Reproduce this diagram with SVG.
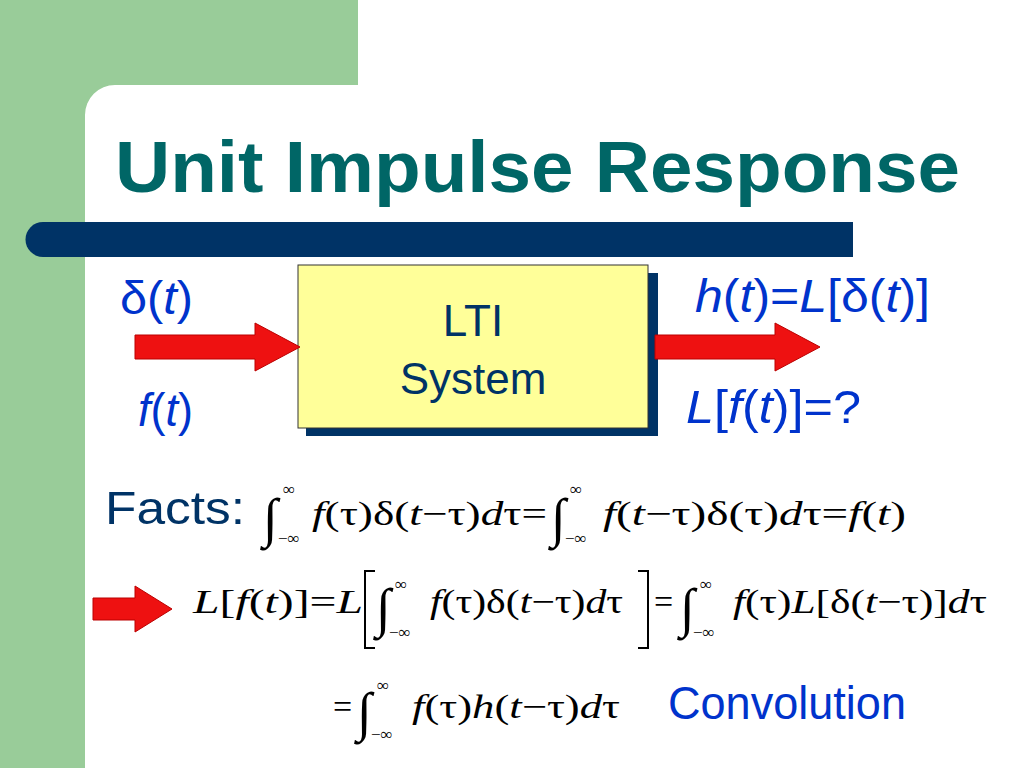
<svg xmlns="http://www.w3.org/2000/svg" width="1024" height="768" viewBox="0 0 1024 768">
<defs>
<style>
.m{font-family:"Liberation Serif",serif;font-style:italic;font-size:34px;fill:#000}
.i{font-family:"Liberation Serif",serif;font-size:54px;fill:#000}
.s{font-family:"Liberation Serif",serif;font-size:17px;fill:#000}
.b{font-family:"Liberation Sans",Arial,sans-serif;fill:#0033cc}
.arr{fill:#ee1111;stroke:#bb0000;stroke-width:1}
</style>
</defs>
<rect width="1024" height="768" fill="#fff"/>
<path d="M0 0H358V85H115A30 30 0 0 0 85 115V768H0Z" fill="#99cc99"/>
<text x="115" y="192" font-family="Liberation Sans,Arial,sans-serif" font-weight="bold" font-size="72" fill="#006666" textLength="845" lengthAdjust="spacingAndGlyphs">Unit Impulse Response</text>
<path d="M43 222H853V257H43A17.5 17.5 0 0 1 43 222Z" fill="#003366"/>
<g id="system">
<rect x="306" y="273" width="352" height="163" fill="#003366"/>
<rect x="298" y="265" width="350" height="163" fill="#ffff99" stroke="#333" stroke-width="1"/>
<text x="473" y="336" text-anchor="middle" font-family="Liberation Sans,Arial,sans-serif" font-size="44" fill="#003366">LTI</text>
<text x="473" y="394" text-anchor="middle" font-family="Liberation Sans,Arial,sans-serif" font-size="44" fill="#003366">System</text>
</g>
<g id="connectors">
<path class="arr" d="M135 335H255V323L300 347L255 371V359H135Z"/>
<path class="arr" d="M655 335H775V323L820 347L775 371V359H655Z"/>
<path class="arr" d="M93 598H135V586L172 609L135 632V620H93Z"/>
</g>
<g id="labels" class="b" font-size="46">
<text x="120" y="314" textLength="73" lengthAdjust="spacingAndGlyphs">δ(<tspan font-style="italic">t</tspan>)</text>
<text x="138" y="426" textLength="55" lengthAdjust="spacingAndGlyphs"><tspan font-style="italic">f</tspan>(<tspan font-style="italic">t</tspan>)</text>
<text x="695" y="312" textLength="235" lengthAdjust="spacingAndGlyphs"><tspan font-style="italic">h</tspan>(<tspan font-style="italic">t</tspan>)=<tspan font-style="italic">L</tspan>[δ(<tspan font-style="italic">t</tspan>)]</text>
<text x="686" y="423" textLength="175" lengthAdjust="spacingAndGlyphs"><tspan font-style="italic">L</tspan>[<tspan font-style="italic">f</tspan>(<tspan font-style="italic">t</tspan>)]=?</text>
<text x="105" y="524" style="fill:#003366" textLength="140" lengthAdjust="spacingAndGlyphs">Facts:</text>
<text x="668" y="719" textLength="238" lengthAdjust="spacingAndGlyphs">Convolution</text>
</g>
<g id="eq1">
<text class="i" x="263" y="536">∫</text><text class="s" x="283" y="495">∞</text><text class="s" x="278" y="544">−∞</text>
<text class="m" x="312" y="525" textLength="235" lengthAdjust="spacingAndGlyphs">f<tspan font-style="normal">(τ)δ(</tspan>t<tspan font-style="normal">−τ)</tspan>d<tspan font-style="normal">τ=</tspan></text>
<text class="i" x="551" y="536">∫</text><text class="s" x="570" y="495">∞</text><text class="s" x="565" y="544">−∞</text>
<text class="m" x="603" y="525" textLength="303" lengthAdjust="spacingAndGlyphs">f<tspan font-style="normal">(</tspan>t<tspan font-style="normal">−τ)δ(τ)</tspan>d<tspan font-style="normal">τ=</tspan>f<tspan font-style="normal">(</tspan>t<tspan font-style="normal">)</tspan></text>
</g>
<g id="eq2">
<text class="m" x="193" y="613" textLength="170" lengthAdjust="spacingAndGlyphs">L<tspan font-style="normal">[</tspan>f<tspan font-style="normal">(</tspan>t<tspan font-style="normal">)]=</tspan>L</text>
<path d="M375 571H365V648H375M638 571H648V648H638" fill="none" stroke="#000" stroke-width="2"/>
<text class="i" x="376" y="626">∫</text><text class="s" x="395" y="590">∞</text><text class="s" x="389" y="638">−∞</text>
<text class="m" x="430" y="613" textLength="193" lengthAdjust="spacingAndGlyphs">f<tspan font-style="normal">(τ)δ(</tspan>t<tspan font-style="normal">−τ)</tspan>d<tspan font-style="normal">τ</tspan></text>
<text class="m" x="654" y="613" style="font-style:normal">=</text>
<text class="i" x="680" y="626">∫</text><text class="s" x="700" y="590">∞</text><text class="s" x="693" y="638">−∞</text>
<text class="m" x="733" y="613" textLength="254" lengthAdjust="spacingAndGlyphs">f<tspan font-style="normal">(τ)</tspan>L<tspan font-style="normal">[δ(</tspan>t<tspan font-style="normal">−τ)]</tspan>d<tspan font-style="normal">τ</tspan></text>
</g>
<g id="eq3">
<text class="m" x="333" y="718" style="font-style:normal">=</text>
<text class="i" x="357" y="730">∫</text><text class="s" x="377" y="691">∞</text><text class="s" x="371" y="740">−∞</text>
<text class="m" x="412" y="718" textLength="208" lengthAdjust="spacingAndGlyphs">f<tspan font-style="normal">(τ)</tspan>h<tspan font-style="normal">(</tspan>t<tspan font-style="normal">−τ)</tspan>d<tspan font-style="normal">τ</tspan></text>
</g>
</svg>
